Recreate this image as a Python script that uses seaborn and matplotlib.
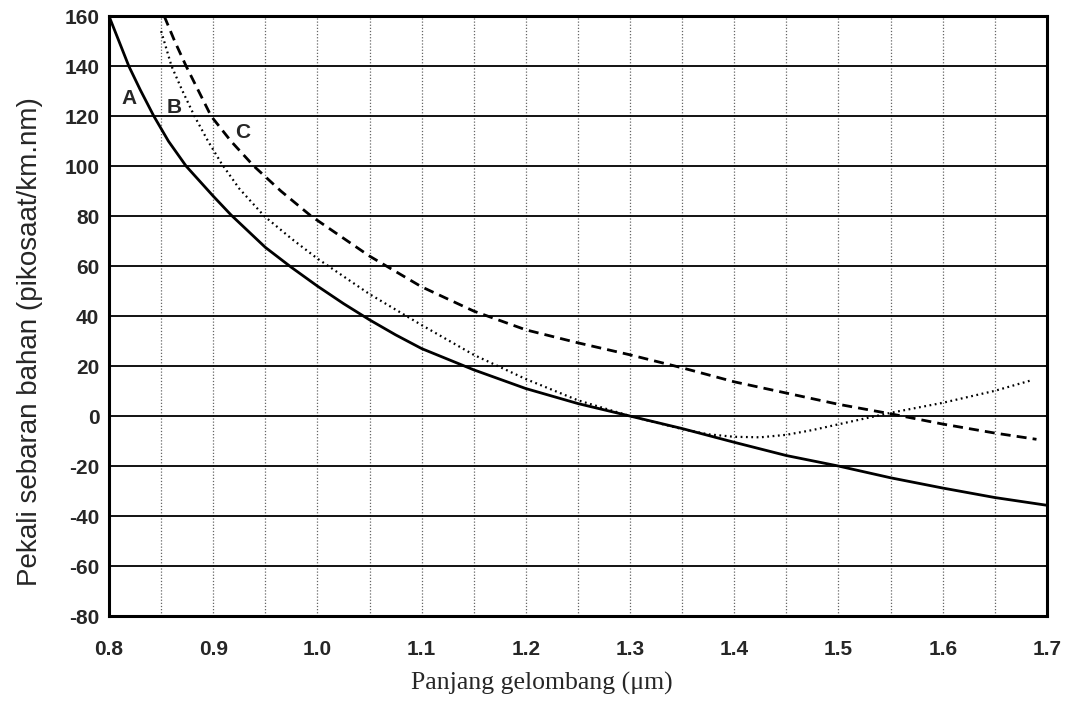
import numpy as np
import pandas as pd
import matplotlib
matplotlib.use('Agg')
import matplotlib.pyplot as plt
import seaborn as sns

# values
a_x = [0.80, 0.81, 0.819, 0.83, 0.843, 0.857, 0.874, 0.90, 0.917, 0.95, 0.975, 1.00,
       1.025, 1.05, 1.075, 1.10, 1.15, 1.20, 1.25, 1.30, 1.35, 1.40, 1.45, 1.50,
       1.55, 1.60, 1.65, 1.70]
a_y = [160, 149.5, 140, 130.5, 120, 110, 100, 88, 80.5, 67.5, 59.5, 52,
       45, 38.5, 32.5, 27, 18.5, 11, 5, 0, -5, -10.5, -15.8, -20,
       -24.7, -28.8, -32.6, -35.7]

b_x = [0.85, 0.86, 0.87, 0.882, 0.895, 0.908, 0.925, 0.949, 0.975, 1.00, 1.05, 1.10,
       1.15, 1.20, 1.25, 1.30, 1.35, 1.375, 1.40, 1.425, 1.45, 1.475, 1.50, 1.55,
       1.60, 1.65, 1.685]
b_y = [154, 140, 130.5, 120, 110, 101, 91, 80, 71, 63, 48.8, 36.4,
       24.5, 14.8, 6.3, 0, -5.2, -7.3, -8.3, -8.5, -7.5, -5.6, -3.3, 1.3,
       5.3, 10.1, 14.3]

c_x = [0.853, 0.863, 0.874, 0.886, 0.898, 0.917, 0.939, 0.965, 0.994, 1.05, 1.10, 1.15,
       1.20, 1.25, 1.30, 1.35, 1.40, 1.45, 1.50, 1.55, 1.60, 1.65, 1.69]
c_y = [160, 150, 140, 130, 120, 110, 100, 90, 80, 64, 51.7, 42,
       34.5, 29.3, 24.5, 19.3, 13.7, 9.2, 4.7, 0.9, -3.2, -6.8, -9.3]

curve_names = ['A', 'B', 'C']
label_pos = {'A': (0.819, 127), 'B': (0.863, 123.5), 'C': (0.928, 113.5)}

x_ticks = [0.8, 0.9, 1.0, 1.1, 1.2, 1.3, 1.4, 1.5, 1.6, 1.7]
x_ticklabels = ['0.8', '0.9', '1.0', '1.1', '1.2', '1.3', '1.4', '1.5', '1.6', '1.7']
y_ticks = list(range(-80, 161, 20))

sns.set_style('white')
plt.rcParams['font.family'] = ['Liberation Sans', 'DejaVu Sans']
plt.rcParams['axes.unicode_minus'] = False

fig = plt.figure(figsize=(10.86, 7.04), dpi=100)
ax = fig.add_axes([0.1004, 0.125, 0.8636, 0.852])

styles = {'A': dict(linestyle='-', linewidth=2.0),
          'B': dict(linestyle=(0, (0.8, 1.6)), linewidth=1.6),
          'C': dict(linestyle=(0, (3.6, 2.2)), linewidth=2.0)}

for name, xs, ys in zip(curve_names, [a_x, b_x, c_x], [a_y, b_y, c_y]):
    df = pd.DataFrame({'x': xs, 'y': ys})
    sns.lineplot(data=df, x='x', y='y', ax=ax, color='black', sort=False,
                 zorder=3, **styles[name])
    tx, ty = label_pos[name]
    ax.text(tx, ty, name, fontsize=15, fontweight='bold', ha='center', va='center')

ax.set_xlim(0.8, 1.7)
ax.set_ylim(-80, 160)
ax.set_xticks(x_ticks)
ax.set_xticklabels(x_ticklabels)
ax.set_xticks(np.arange(0.85, 1.7, 0.1), minor=True)
ax.set_yticks(y_ticks)
ax.set_yticklabels([str(v) for v in y_ticks])

# grid: solid horizontals, dotted verticals
ax.grid(False)
ax.yaxis.grid(True, color='black', linewidth=1.3, linestyle='-')
ax.xaxis.grid(True, which='both', color='#666666', linewidth=0.9, linestyle=(0, (1, 1.5)))
ax.set_axisbelow(True)

ax.tick_params(axis='x', which='both', length=0, pad=17, labelsize=15)
ax.tick_params(axis='y', length=0, pad=7, labelsize=15)
for lab in ax.get_xticklabels() + ax.get_yticklabels():
    lab.set_fontweight('bold')

for sp in ax.spines.values():
    sp.set_color('black')
    sp.set_linewidth(2.2)

ax.set_xlabel('Panjang gelombang (\u03bcm)', family=['Liberation Serif', 'DejaVu Serif'],
              fontsize=18.5)
ax.set_ylabel('Pekali sebaran bahan (pikosaat/km.nm)', fontsize=20)
ax.xaxis.set_label_coords(0.461, -0.093)
ax.yaxis.set_label_coords(-0.070, 0.457)

plt.savefig('out.png', dpi=100)
